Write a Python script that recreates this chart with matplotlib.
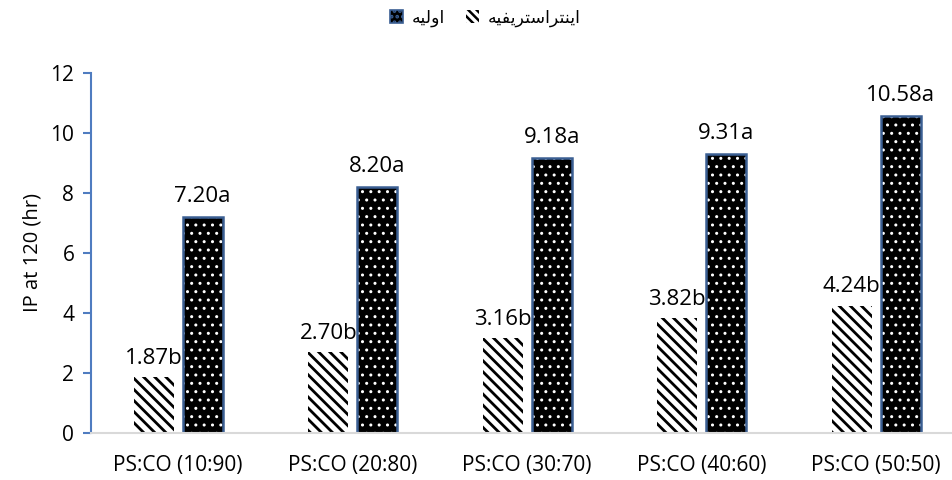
import matplotlib
matplotlib.use('Agg')
import matplotlib.pyplot as plt
from matplotlib.patches import Patch
import numpy as np

plt.rcParams['font.family'] = ['Open Sans', 'DejaVu Sans']

# data
categories = ['PS:CO (10:90)', 'PS:CO (20:80)', 'PS:CO (30:70)',
              'PS:CO (40:60)', 'PS:CO (50:50)']
inter_vals = [1.87, 2.70, 3.16, 3.82, 4.24]
orig_vals = [7.20, 8.20, 9.18, 9.31, 10.58]
inter_letters = ['b', 'b', 'b', 'b', 'b']
orig_letters = ['a', 'a', 'a', 'a', 'a']

# Persian series names, written in presentation forms in display order
name_orig = '\uFEEA\uFEF4\uFEDF\uFEED\uFE8D'  # اولیه
name_inter = ('\uFEEA\uFEF4\uFED4\uFEF3\uFEAE\uFE98\uFEB3'
              '\uFE8D\uFEAE\uFE98\uFEE8\uFEF3\uFE8D')  # اینتراستریفیه

axis_blue = '#4f7cc0'
edge_blue = '#3b5f93'

fig = plt.figure(figsize=(9.53, 4.8), dpi=100)
ax = fig.add_axes([91 / 953, (480 - 433) / 480, 1 - 91 / 953, 360 / 480])

x = np.arange(len(categories))
w = 0.23
off = 0.14

# striped bars
plt.rcParams['hatch.linewidth'] = 2.0
ax.bar(x - off, inter_vals, w, color='white', edgecolor='black',
       hatch='\\\\\\', linewidth=0)

# dotted bars: black face, white dots, blue outline drawn on top
plt.rcParams['hatch.linewidth'] = 1.0
ax.bar(x + off, orig_vals, w, color='black', edgecolor='white',
       hatch='..', linewidth=0)
ax.bar(x + off, orig_vals, w, fill=False, edgecolor=edge_blue, linewidth=1.8)

for xi, v, l in zip(x, inter_vals, inter_letters):
    ax.annotate('%.2f%s' % (v, l), (xi - off, v), xytext=(0, 6),
                textcoords='offset points', ha='center', va='bottom',
                fontsize=16)
for xi, v, l in zip(x, orig_vals, orig_letters):
    ax.annotate('%.2f%s' % (v, l), (xi + off, v), xytext=(0, 7),
                textcoords='offset points', ha='center', va='bottom',
                fontsize=16)

ax.set_xlim(-0.5, 4.44)
ax.set_ylim(0, 12)
ax.set_yticks([0, 2, 4, 6, 8, 10, 12])
ax.set_xticks(x)
ax.set_xticklabels(categories)
ax.tick_params(axis='x', length=0, pad=16, labelsize=15)
ax.tick_params(axis='y', direction='out', length=6, color=axis_blue,
               width=1.5, labelsize=15, pad=6)
ax.set_ylabel('IP at 120 (hr)', fontsize=14.5, labelpad=6)

ax.spines['top'].set_visible(False)
ax.spines['right'].set_visible(False)
ax.spines['left'].set_color(axis_blue)
ax.spines['left'].set_linewidth(1.5)
ax.spines['bottom'].set_color('#d9d9d9')
ax.spines['bottom'].set_linewidth(1.5)

plt.rcParams['hatch.linewidth'] = 0.8
h_orig = Patch(facecolor='black', edgecolor=edge_blue, hatch='...', linewidth=1.2)
plt.rcParams['hatch.linewidth'] = 1.8
h_inter = Patch(facecolor='white', edgecolor='black', hatch='\\\\\\\\', linewidth=0)
fig.legend([h_orig, h_inter], [name_orig, name_inter], loc='center',
           bbox_to_anchor=(485 / 953, 1 - 18 / 480), ncol=2, frameon=False,
           prop={'family': 'DejaVu Sans', 'size': 12.5},
           handlelength=0.75, handleheight=0.75, handletextpad=0.5,
           columnspacing=1.2)

fig.savefig('out.png', dpi=100)
